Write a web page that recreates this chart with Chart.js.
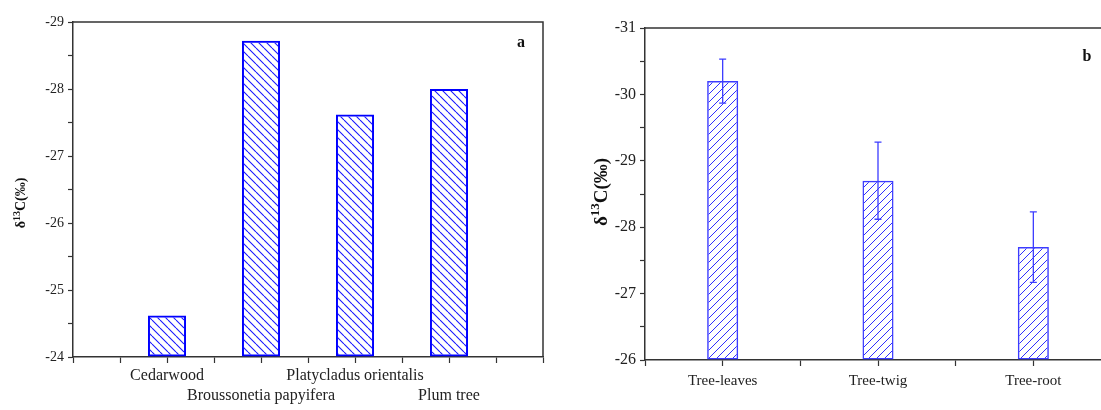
<!DOCTYPE html>
<html lang="en">
<head>
    <meta charset="UTF-8">
    <title>δ13C of trees</title>
    <script src="https://cdn.jsdelivr.net/npm/chart.js"></script>
    <style>
        html, body { margin: 0; padding: 0; background: #fff; overflow: hidden; }
        body { width: 1101px; height: 410px; position: relative; }
        .panel { position: absolute; top: 0; height: 410px; }
        #boxA { left: 0; width: 560px; }
        #boxB { left: 555px; width: 565px; }
    </style>
</head>
<body>
    <div class="panel" id="boxA"><canvas id="chartA"></canvas></div>
    <div class="panel" id="boxB"><canvas id="chartB"></canvas></div>
    <script>
        // panel a: species
        const speciesNames = [['Cedarwood', ''], ['', 'Broussonetia papyifera'], ['Platycladus orientalis', ''], ['', 'Plum tree']];
        const speciesD13C = [-24.62, -28.72, -27.62, -28.0];

        // panel b: tree organs
        const organNames = ['Tree-leaves', 'Tree-twig', 'Tree-root'];
        const organD13C = [-30.2, -28.7, -27.7];
        const organErr = [0.33, 0.58, 0.53];

        const serif = 'Liberation Serif';

        // diagonal hatch fill
        function hatch(color, forward, gap, lw) {
            const c = document.createElement('canvas');
            c.width = gap; c.height = gap;
            const g = c.getContext('2d');
            g.strokeStyle = color;
            g.lineWidth = lw;
            g.beginPath();
            for (let k = -1; k <= 1; k++) {
                if (forward) {
                    g.moveTo(k * gap, gap); g.lineTo(k * gap + gap, 0);
                } else {
                    g.moveTo(k * gap, 0); g.lineTo(k * gap + gap, gap);
                }
            }
            g.stroke();
            return g.createPattern(c, 'repeat');
        }

        // spread categories over every other slot so minor ticks sit between them;
        // `edge` empty slots are kept at both ends of the axis
        function slots(labels, values, edge) {
            const lab = [], val = [];
            for (let k = 0; k < edge; k++) { lab.push(''); val.push(null); }
            labels.forEach((l, i) => {
                if (i > 0) { lab.push(''); val.push(null); }
                lab.push(l); val.push(values[i]);
            });
            for (let k = 0; k < edge; k++) { lab.push(''); val.push(null); }
            return { lab, val };
        }

        // frame on top/right, panel letter and the rotated δ13C(‰) axis title
        const framePlugin = {
            id: 'frame',
            afterDraw(chart, args, opts) {
                const { ctx, chartArea: a } = chart;
                ctx.save();
                ctx.strokeStyle = '#333';
                ctx.lineWidth = 1.5;
                ctx.beginPath();
                ctx.moveTo(a.left, a.top);
                ctx.lineTo(a.right, a.top);
                ctx.lineTo(a.right, a.bottom);
                ctx.stroke();

                ctx.fillStyle = '#111';
                ctx.font = 'bold 16px "' + serif + '"';
                ctx.textAlign = 'center';
                ctx.textBaseline = 'middle';
                ctx.fillText(opts.letter, a.right - opts.dx, a.top + opts.dy);

                // axis title with a real superscript
                const f = opts.titleSize, fs = Math.round(f * 0.68);
                const big = 'bold ' + f + 'px "' + serif + '"';
                const small = 'bold ' + fs + 'px "' + serif + '"';
                const parts = [['δ', big, 0], ['13', small, -f * 0.38], ['C(‰)', big, 0]];
                let total = 0;
                parts.forEach(p => { ctx.font = p[1]; p.push(ctx.measureText(p[0]).width); total += p[3]; });
                ctx.translate(opts.titleX, opts.titleY);
                ctx.rotate(-Math.PI / 2);
                ctx.textAlign = 'left';
                ctx.textBaseline = 'alphabetic';
                let x = -total / 2;
                const base = f * 0.35;
                parts.forEach(p => {
                    ctx.font = p[1];
                    ctx.fillText(p[0], x, base + p[2]);
                    x += p[3];
                });
                ctx.restore();
            }
        };

        // vertical error bars with caps
        const errorPlugin = {
            id: 'errbars',
            afterDatasetsDraw(chart, args, opts) {
                if (!opts.err) return;
                const { ctx } = chart;
                const y = chart.scales.y;
                const meta = chart.getDatasetMeta(0);
                const data = chart.data.datasets[0].data;
                let n = 0;
                ctx.save();
                ctx.strokeStyle = opts.color;
                ctx.lineWidth = 1.3;
                meta.data.forEach((bar, i) => {
                    if (data[i] === null) return;
                    const e = opts.err[n++];
                    const y1 = y.getPixelForValue(data[i] - e);
                    const y2 = y.getPixelForValue(data[i] + e);
                    ctx.beginPath();
                    ctx.moveTo(bar.x, y1); ctx.lineTo(bar.x, y2);
                    ctx.moveTo(bar.x - 3.5, y1); ctx.lineTo(bar.x + 3.5, y1);
                    ctx.moveTo(bar.x - 3.5, y2); ctx.lineTo(bar.x + 3.5, y2);
                    ctx.stroke();
                });
                ctx.restore();
            }
        };

        function makeChart(id, cfg) {
            const s = slots(cfg.labels, cfg.values, cfg.edge);
            return new Chart(document.getElementById(id), {
                type: 'bar',
                data: {
                    labels: s.lab,
                    datasets: [{
                        data: s.val,
                        base: cfg.max,
                        backgroundColor: hatch(cfg.hatchColor, cfg.forward, 8, cfg.hatchWidth),
                        borderColor: cfg.color,
                        borderWidth: cfg.borderWidth,
                        borderSkipped: false,
                        categoryPercentage: 1,
                        barPercentage: cfg.barPct
                    }]
                },
                options: {
                    responsive: true,
                    maintainAspectRatio: false,
                    animation: false,
                    layout: { padding: { top: cfg.top, right: cfg.right, left: 0, bottom: 0 } },
                    plugins: {
                        legend: { display: false },
                        tooltip: { enabled: false },
                        frame: {
                            letter: cfg.letter, dx: cfg.letterDx, dy: cfg.letterDy,
                            titleSize: cfg.titleFont, titleX: cfg.titleX, titleY: cfg.titleY
                        },
                        errbars: { err: cfg.err, color: cfg.color }
                    },
                    scales: {
                        x: {
                            offset: false,
                            afterFit: sc => { sc.height = cfg.xHeight; },
                            grid: { offset: false, drawOnChartArea: false, tickLength: 6, color: '#333', tickWidth: 1.2 },
                            border: { color: '#333', width: 1.5 },
                            ticks: {
                                autoSkip: false, maxRotation: 0, padding: cfg.xPad, color: '#222',
                                font: { family: serif, size: cfg.xFont, lineHeight: 1.3 }
                            }
                        },
                        y: {
                            reverse: true,
                            min: cfg.min,
                            max: cfg.max,
                            afterFit: sc => { sc.width = cfg.yWidth; },
                            grid: { drawOnChartArea: false, tickLength: 5, color: '#333', tickWidth: 1.2 },
                            border: { color: '#333', width: 1.5 },
                            ticks: {
                                stepSize: 0.5, padding: 4, color: '#222',
                                font: { family: serif, size: cfg.yFont },
                                callback: v => Number.isInteger(v) ? String(v) : ''
                            }
                        }
                    }
                },
                plugins: [framePlugin, errorPlugin]
            });
        }

        makeChart('chartA', {
            labels: speciesNames, values: speciesD13C, err: null, edge: 2,
            min: -29, max: -24, forward: false,
            color: '#0000ff', hatchColor: '#1a1aff', hatchWidth: 1.1, borderWidth: 2, barPct: 0.81,
            top: 22, right: 17, xHeight: 53, yWidth: 73, xPad: 2, xFont: 16, yFont: 14,
            titleFont: 14, titleX: 20, titleY: 203, letter: 'a', letterDx: 22, letterDy: 21
        });

        makeChart('chartB', {
            labels: organNames, values: organD13C, err: organErr, edge: 1,
            min: -31, max: -26, forward: true,
            color: '#3c3cff', hatchColor: '#3030ff', hatchWidth: 1, borderWidth: 1.5, barPct: 0.4,
            top: 28, right: 9, xHeight: 50, yWidth: 90, xPad: 5, xFont: 15, yFont: 16,
            titleFont: 19, titleX: 45, titleY: 192, letter: 'b', letterDx: 24, letterDy: 29
        });
    </script>
</body>
</html>
